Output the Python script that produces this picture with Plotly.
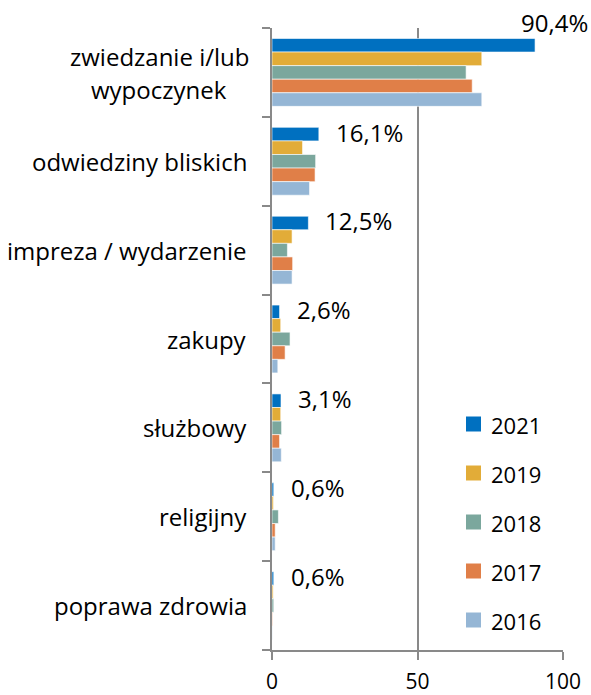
import plotly.graph_objects as go

categories = ["zwiedzanie i/lub<br>wypoczynek", "odwiedziny bliskich", "impreza / wydarzenie",
              "zakupy", "służbowy", "religijny", "poprawa zdrowia"]
years = ["2021", "2019", "2018", "2017", "2016"]
values = {
    "2021": [90.4, 16.1, 12.5, 2.6, 3.1, 0.6, 0.6],
    "2019": [72.1, 10.5, 6.9, 3.0, 3.0, 0.5, 0.4],
    "2018": [66.7, 15.0, 5.3, 6.2, 3.3, 2.2, 0.6],
    "2017": [68.8, 14.8, 7.1, 4.5, 2.6, 1.1, 0.2],
    "2016": [72.1, 12.9, 6.9, 2.0, 3.2, 1.1, 0.1],
}
labels_2021 = ["90,4%", "16,1%", "12,5%", "2,6%", "3,1%", "0,6%", "0,6%"]
x_ticks = [0, 50, 100]
colors = {"2021": "#0070C0", "2019": "#E2AC38", "2018": "#7BA79D", "2017": "#E07F48", "2016": "#95B6D5"}

FONT = "Open Sans"
GRID = "#898989"
fig = go.Figure()
for yr in years:
    fig.add_trace(go.Bar(
        x=values[yr], y=list(range(len(categories))), orientation="h", name=yr,
        marker=dict(color=colors[yr], line=dict(color="white", width=0.6)),
        showlegend=False,
    ))

annotations = []
shapes = []
n = len(years)
bargap = 0.236
first_off = -(1 - bargap) / 2 + (1 - bargap) / n / 2
lab_font = dict(size=24, color="black", family=FONT)
for i, (v, t) in enumerate(zip(values["2021"], labels_2021)):
    if i == 0:
        annotations.append(dict(x=v, y=i + first_off, xref="x", yref="y", text=t, showarrow=False,
                                xanchor="left", xshift=-16, yshift=23, font=lab_font))
    else:
        annotations.append(dict(x=v, y=i + first_off, xref="x", yref="y", text=t, showarrow=False,
                                xanchor="left", xshift=15, yshift=2, font=lab_font))

for i, c in enumerate(categories):
    parts = c.split("<br>")
    if len(parts) == 1:
        annotations.append(dict(x=0, y=i, xref="paper", yref="y", text=c, showarrow=False,
                                xanchor="right", xshift=-23, yshift=0, font=lab_font))
    else:
        for p, s in zip(parts, [16, -17]):
            annotations.append(dict(x=0, y=i, xref="paper", yref="y", text=p, showarrow=False,
                                    xanchor="center", xshift=-23 - 90, yshift=s, font=lab_font))

# manual legend (squares + labels)
plot_w, plot_h = 291, 622
sq = 15
top_y = 424
step = 49
for k, yr in enumerate(years):
    yc = top_y + k * step
    y_paper = (650 - yc) / plot_h
    x0 = (466 - 272) / plot_w
    shapes.append(dict(type="rect", xref="paper", yref="paper",
                       x0=x0, x1=x0 + sq / plot_w,
                       y0=y_paper - sq / 2 / plot_h, y1=y_paper + sq / 2 / plot_h,
                       fillcolor=colors[yr], line=dict(width=0)))
    annotations.append(dict(x=(489 - 272) / plot_w, y=y_paper, xref="paper", yref="paper", text=yr,
                            showarrow=False, xanchor="left", yanchor="middle", yshift=-1,
                            font=dict(size=22, color="black", family=FONT)))

fig.update_layout(
    width=591, height=695,
    margin=dict(l=272, r=28, t=28, b=45, autoexpand=False),
    plot_bgcolor="white", paper_bgcolor="white",
    barmode="group", bargap=bargap, bargroupgap=0,
    font=dict(family=FONT, size=21, color="black"),
    annotations=annotations, shapes=shapes,
    showlegend=False,
    xaxis=dict(range=[0, 100], tickvals=x_ticks, ticktext=[str(t) for t in x_ticks],
               showgrid=True, gridcolor=GRID, gridwidth=2, zeroline=False,
               showline=True, linecolor=GRID, linewidth=2,
               ticks="outside", ticklen=8, tickcolor=GRID, tickwidth=2,
               ticklabelstandoff=4, tickfont=dict(size=21), automargin=False),
    yaxis=dict(range=[6.5, -0.5], tickvals=[-0.5, 0.5, 1.5, 2.5, 3.5, 4.5, 5.5, 6.5],
               showticklabels=False, showgrid=False, zeroline=False,
               showline=True, linecolor=GRID, linewidth=2,
               ticks="outside", ticklen=8, tickcolor=GRID, tickwidth=2, automargin=False),
)
fig.write_html("out.html", config={"displayModeBar": False},
               post_script="document.body.style.margin='0';")
